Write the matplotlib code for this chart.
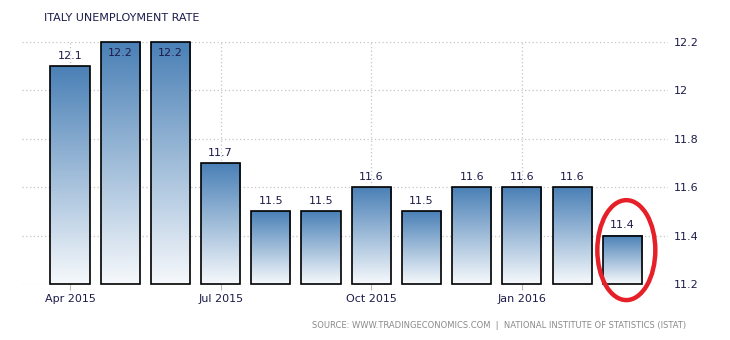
import numpy as np
import matplotlib.pyplot as plt
from matplotlib.colors import LinearSegmentedColormap
from matplotlib.patches import Ellipse

months = ['Apr 2015', 'May 2015', 'Jun 2015', 'Jul 2015', 'Aug 2015', 'Sep 2015',
          'Oct 2015', 'Nov 2015', 'Dec 2015', 'Jan 2016', 'Feb 2016', 'Mar 2016']
rates = [12.1, 12.2, 12.2, 11.7, 11.5, 11.5, 11.6, 11.5, 11.6, 11.6, 11.6, 11.4]
tick_idx = [0, 3, 6, 9]
y_ticks = [11.2, 11.4, 11.6, 11.8, 12.0, 12.2]
y_tick_labels = ['11.2', '11.4', '11.6', '11.8', '12', '12.2']

base = 11.2
text_col = '#1c1c4a'

fig = plt.figure(figsize=(7.3, 3.4), dpi=100)
ax = fig.add_axes([22 / 730, 56 / 340, 646 / 730, 242 / 340])

cmap = LinearSegmentedColormap.from_list('bar', ['#f6f9fc', '#4a80b6'])
grad = np.linspace(0, 1, 256).reshape(-1, 1)
width = 0.78

for i, v in enumerate(rates):
    x0, x1 = i - width / 2, i + width / 2
    ax.imshow(grad, cmap=cmap, extent=(x0, x1, base, v), origin='lower',
              aspect='auto', zorder=2, interpolation='bicubic')
    bars = ax.bar(i, v - base, bottom=base, width=width, facecolor='none',
                  edgecolor='black', linewidth=1.2, zorder=3)
    for b in bars:
        b.set_clip_on(False)
    if v >= 12.2:
        ax.text(i, v - 0.047, f'{v:g}', ha='center', va='center',
                fontsize=8, color=text_col, zorder=4)
    else:
        ax.text(i, v + 0.042, f'{v:g}', ha='center', va='center',
                fontsize=8, color=text_col, zorder=4)

ax.set_xlim(-0.956, 11.91)
ax.set_ylim(base, 12.2)

ax.set_xticks(tick_idx)
ax.set_xticklabels([months[i] for i in tick_idx], fontsize=8, color=text_col)
ax.set_yticks(y_ticks)
ax.set_yticklabels(y_tick_labels, fontsize=8, color=text_col)
ax.yaxis.tick_right()
ax.tick_params(axis='y', length=0, pad=4)
ax.tick_params(axis='x', length=4, color='#bbbbbb', pad=3)

ax.grid(True, linestyle=(0, (1, 2)), color='#c4c4c4', linewidth=0.9, zorder=0)
ax.set_axisbelow(True)
for s in ax.spines.values():
    s.set_visible(False)

# red circle around the latest value
ell = Ellipse((11.08, 11.34), 1.155, 0.413, fill=False, edgecolor='#e62028',
              linewidth=3.2, zorder=5, clip_on=False)
ax.add_patch(ell)

fig.text(44 / 730, 1 - 18 / 340, 'ITALY UNEMPLOYMENT RATE', fontsize=8,
         color=text_col, va='center', ha='left')
fig.text(686 / 730, 1 - 326 / 340,
         'SOURCE: WWW.TRADINGECONOMICS.COM  |  NATIONAL INSTITUTE OF STATISTICS (ISTAT)',
         fontsize=6, color='#8a8a8a', va='center', ha='right')

fig.savefig('out.png', dpi=100)
